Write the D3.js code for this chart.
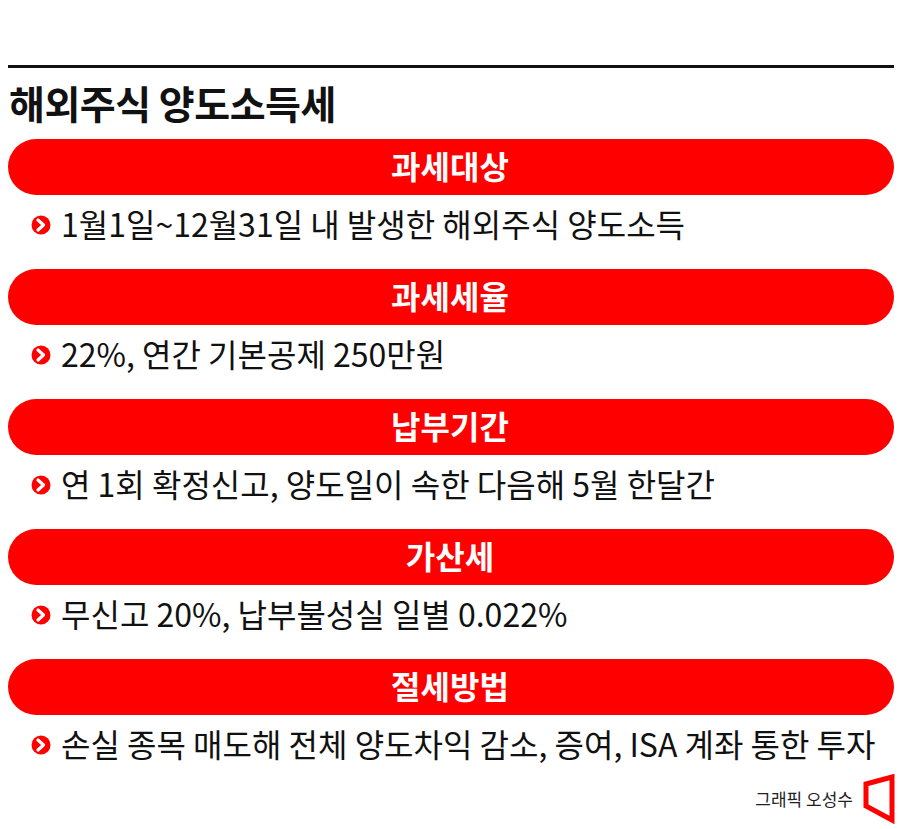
<!DOCTYPE html>
<html><head><meta charset="utf-8">
<script src="https://cdn.jsdelivr.net/npm/d3@7"></script>
<style>body{margin:0;background:#fff}</style>
</head><body><div id="chart"></div>
<script>
// Content
var title = '해외주식 양도소득세';
var headers = ['과세대상', '과세세율', '납부기간', '가산세', '절세방법'];
var items = [
  '1월1일~12월31일 내 발생한 해외주식 양도소득',
  '22%, 연간 기본공제 250만원',
  '연 1회 확정신고, 양도일이 속한 다음해 5월 한달간',
  '무신고 20%, 납부불성실 일별 0.022%',
  '손실 종목 매도해 전체 양도차익 감소, 증여, ISA 계좌 통한 투자'
];
var credit = '그래픽 오성수';

var width = 900, height = 829, red = '#ff0000';
var font = "'Noto Sans CJK KR', 'Noto Sans', sans-serif";

var svg = d3.select('#chart').append('svg')
  .attr('width', width).attr('height', height);

var y = d3.scaleBand().domain(d3.range(headers.length)).range([139, 789]);

svg.append('rect').attr('x', 8).attr('y', 65).attr('width', 886).attr('height', 3).attr('fill', '#111');

svg.append('text').attr('x', 9).attr('y', 119)
  .attr('font-family', font).attr('font-weight', 700).attr('font-size', 39)
  .attr('letter-spacing', -0.5).attr('fill', '#111').text(title);

var rows = svg.selectAll('.row').data(headers).enter().append('g')
  .attr('class', 'row')
  .attr('transform', function(d, i) { return 'translate(0,' + y(i) + ')'; });

rows.append('rect').attr('x', 8).attr('y', 0).attr('width', 886).attr('height', 56)
  .attr('rx', 28).attr('fill', red);

rows.append('text').attr('x', 450).attr('y', 28).attr('dy', '0.36em')
  .attr('text-anchor', 'middle').attr('font-family', font).attr('font-weight', 700)
  .attr('font-size', 32).attr('fill', '#fff')
  .text(function(d) { return d; });

// bullet
rows.append('circle').attr('cx', 41).attr('cy', 86).attr('r', 9.5).attr('fill', red);
rows.append('path').attr('d', 'M38,81 L43.5,86 L38,91')
  .attr('fill', 'none').attr('stroke', '#fff').attr('stroke-width', 3.2)
  .attr('stroke-linecap', 'round').attr('stroke-linejoin', 'round');

rows.append('text').attr('x', 61).attr('y', 86).attr('dy', '0.36em')
  .attr('font-family', font).attr('font-size', 32)
  .attr('fill', '#111')
  .text(function(d, i) { return items[i]; });

svg.append('text').attr('x', 853).attr('y', 806).attr('text-anchor', 'end')
  .attr('font-family', font).attr('font-size', 17)
  .attr('fill', '#222').text(credit);

svg.append('path').attr('d', 'M866,784 L892,777 L892,820 L866,806 Z')
  .attr('fill', 'none').attr('stroke', red).attr('stroke-width', 5);
</script></body></html>
